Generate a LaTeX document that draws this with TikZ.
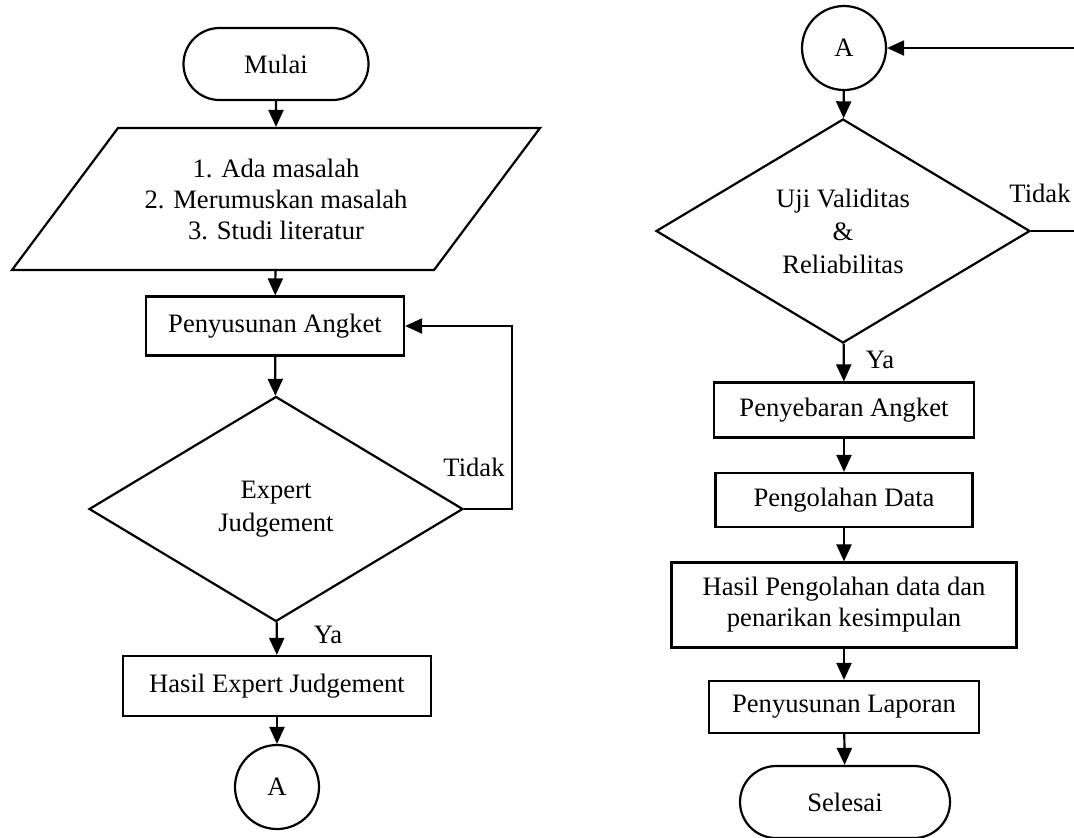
\documentclass[tikz,border=0pt]{standalone}
\usepackage{fontspec}
\setmainfont{Liberation Serif}
\usetikzlibrary{calc, positioning}
\usetikzlibrary{arrows.meta}
\usetikzlibrary{shapes.geometric, shapes.misc}

\begin{document}
\begin{tikzpicture}[x=0.5pt, y=-0.5pt,
  line width=1.1pt,
  every node/.style={font=\fontsize{13.3}{15.5}\selectfont},
  terminal/.style={draw, rounded rectangle, minimum width=#1, minimum height=36pt, inner sep=0pt},
  procbox/.style={draw, rectangle, align=center, inner sep=0pt, minimum width=#1},
  decision/.style={draw, diamond, align=center, inner sep=0pt, minimum width=187pt,
    minimum height=112.5pt, font=\fontsize{13.3}{16.5}\selectfont},
  connector/.style={draw, circle, minimum size=42pt, inner sep=0pt},
  flow/.style={-{Triangle[length=8.5pt, width=7.5pt]}}]
\useasboundingbox (0,0) rectangle (1074,837);

% left column
\node[terminal=92.5pt] (mulai) at (276,64) {Mulai};
\node[align=center, minimum height=71pt, inner sep=0pt] (masalah) at (276,199)
  {1. Ada masalah\\2. Merumuskan masalah\\3. Studi literatur};
\draw (118,128) -- (540,128) -- (434,270) -- (12,270) -- cycle;
\node[procbox=129pt, minimum height=29.5pt] (angket) at (275,326) {Penyusunan Angket};
\node[decision] (expert) at (276,509) {Expert\\Judgement};
\node[procbox=154pt, minimum height=30pt] (hasilexp) at (277,686) {Hasil Expert Judgement};
\node[connector] (akiri) at (277,787) {A};

\draw[flow] (mulai) -- (masalah);
\draw[flow] (masalah) -- (angket);
\draw[flow] (angket) -- (expert);
\draw[flow] (expert) -- (hasilexp);
\draw[flow] (hasilexp) -- (akiri);
\draw[flow] (expert.east) -- ++(48,0) |- (angket.east);
\node at (474,467) {Tidak};
\node at (328,635) {Ya};

% right column
\node[connector] (akanan) at (844,48) {A};
\node[decision, minimum height=112pt] (uji) at (843,231) {Uji Validitas\\\&\\Reliabilitas};
\node[procbox=130pt, minimum height=27.5pt] (sebar) at (844,410) {Penyebaran Angket};
\node[procbox=128.5pt, minimum height=27pt] (olah) at (844,500) {Pengolahan Data};
\node[procbox=172.5pt, minimum height=42.5pt] (hasil) at (844,605)
  {Hasil Pengolahan data dan\\penarikan kesimpulan};
\node[procbox=135pt, minimum height=26pt] (laporan) at (844,707) {Penyusunan Laporan};
\node[terminal=105pt] (selesai) at (845,802) {Selesai};

\draw[flow] (akanan) -- (uji);
\draw[flow] (uji) -- (sebar);
\draw[flow] (sebar) -- (olah);
\draw[flow] (olah) -- (hasil);
\draw[flow] (hasil) -- (laporan);
\draw[flow] (laporan) -- (selesai);
\draw[flow] (uji.east) -- ++(50,0) |- (akanan.east);
\node at (1040,193) {Tidak};
\node at (880,360) {Ya};
\end{tikzpicture}
\end{document}
